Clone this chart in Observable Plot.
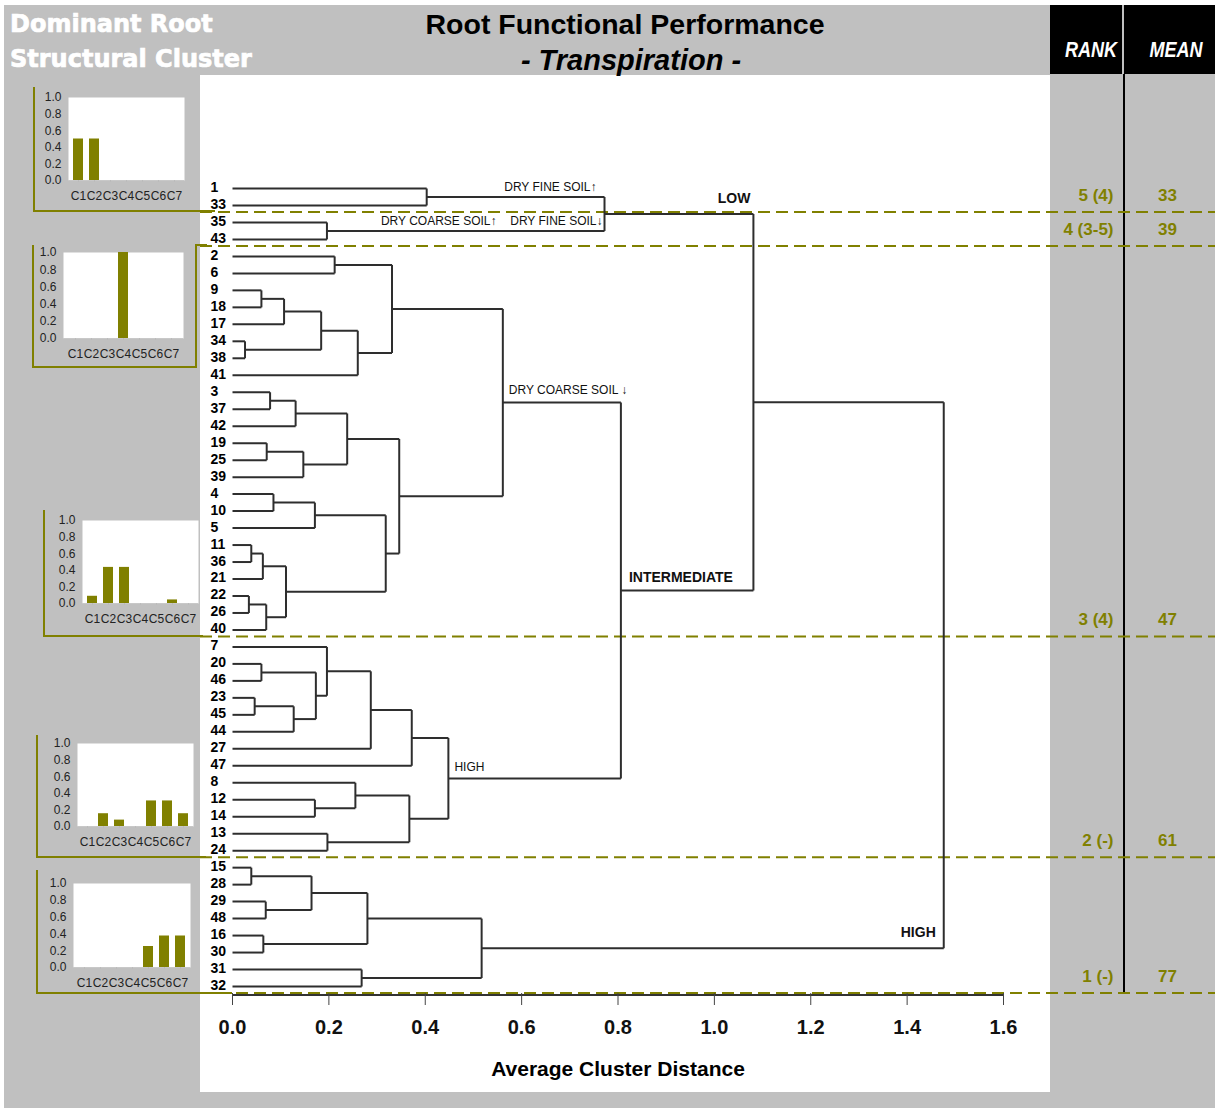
<!DOCTYPE html>
<html>
<head>
<meta charset="utf-8">
<script src="https://cdn.jsdelivr.net/npm/d3@7"></script>
<script src="https://cdn.jsdelivr.net/npm/@observablehq/plot@0.6"></script>
<style>
  html, body { margin: 0; padding: 0; background: #fff; }
  #fig { position: relative; width: 1215px; height: 1108px; overflow: hidden; font-family: "Liberation Sans", Arial, sans-serif; }
  #fig > * { position: absolute; }
  .bg { left: 4px; top: 5px; right: 0; bottom: 0; background: #c0c0c0; }
  .panel { left: 200px; top: 75px; width: 850px; height: 1017px; background: #fff; }
  .box { background: #000; top: 5px; height: 69px; }
  .hdr { color: #fff; font-family: "DejaVu Sans", sans-serif; font-weight: bold; font-size: 24px; line-height: 1; left: 10px;
         white-space: nowrap; -webkit-text-stroke: 0.7px #fff; }
  .title { color: #000; font-weight: bold; font-size: 28.5px; line-height: 1; white-space: nowrap; transform: translateX(-50%); }
  .colhead { color: #fff; font-weight: bold; font-style: italic; font-size: 22px; line-height: 1; white-space: nowrap;
             transform: translateX(-50%) scaleX(0.82); }
  .bracket { border: 0 solid #808000; box-sizing: border-box; }
</style>
</head>
<body>
<div id="fig">
  <div class="bg"></div>
  <div class="panel"></div>
  <div class="box" style="left:1050px;width:72px"></div>
  <div class="box" style="left:1124px;width:91px"></div>
  <div style="left:1123px;top:74px;width:2px;height:919px;background:#000"></div>
  <div class="hdr" style="top:12px">Dominant Root</div>
  <div class="hdr" style="top:47px">Structural Cluster</div>
  <div class="title" style="left:625px;top:10px">Root Functional Performance</div>
  <div class="title" style="left:631px;top:46px;font-style:italic;font-size:29px">- Transpiration -</div>
  <div class="colhead" style="left:1091px;top:39px">RANK</div>
  <div class="colhead" style="left:1176px;top:39px">MEAN</div>
</div>
<script>
// Leaf order of the dendrogram, top to bottom
const leaves = [1, 33, 35, 43, 2, 6, 9, 18, 17, 34, 38, 41, 3, 37, 42, 19, 25, 39, 4, 10, 5,
  11, 36, 21, 22, 26, 40, 7, 20, 46, 23, 45, 44, 27, 47, 8, 12, 14, 13, 24,
  15, 28, 29, 48, 16, 30, 31, 32];

// Agglomeration steps: [node id, left child, right child, average cluster distance]
const merges = [
  ["A", 1, 33, 0.403], ["B", 35, 43, 0.196], ["C", "A", "B", 0.772],
  ["D", 2, 6, 0.212], ["E", 9, 18, 0.060], ["F", "E", 17, 0.107], ["G", 34, 38, 0.026],
  ["H", "F", "G", 0.184], ["I", "H", 41, 0.260], ["J", "D", "I", 0.331],
  ["K", 3, 37, 0.078], ["L", "K", 42, 0.131], ["M", 19, 25, 0.071], ["N", "M", 39, 0.147],
  ["O", "L", "N", 0.238], ["P", 4, 10, 0.085], ["Q", "P", 5, 0.171],
  ["R", 11, 36, 0.039], ["S", "R", 21, 0.063], ["T", 22, 26, 0.034], ["U", "T", 40, 0.070],
  ["V", "S", "U", 0.111], ["W", "Q", "V", 0.318], ["X", "O", "W", 0.346], ["Y", "J", "X", 0.561],
  ["a", 20, 46, 0.060], ["b", 23, 45, 0.046], ["c", "b", 44, 0.127], ["d", "a", "c", 0.173],
  ["e", 7, "d", 0.196], ["f", "e", 27, 0.287], ["g", "f", 47, 0.372],
  ["h", 12, 14, 0.171], ["i", 8, "h", 0.255], ["j", 13, 24, 0.197], ["k", "i", "j", 0.367],
  ["l", "g", "k", 0.448], ["m", "Y", "l", 0.806], ["n", "C", "m", 1.081],
  ["o", 15, 28, 0.039], ["p", 29, 48, 0.069], ["q", "o", "p", 0.164], ["r", 16, 30, 0.064],
  ["s", "q", "r", 0.280], ["t", 31, 32, 0.268], ["u", "s", "t", 0.517],
  ["root", "n", "u", 1.476]
];

// Performance groups: last leaf of each group, rank and mean transpiration
const groupLast = [33, 43, 40, 24, 32];
const groupRank = ["5 (4)", "4 (3-5)", "3 (4)", "2 (-)", "1 (-)"];
const groupMean = [33, 39, 47, 61, 77];

// Branch annotations
const noteText = ["DRY FINE SOIL↑", "DRY COARSE SOIL↑", "DRY FINE SOIL↓", "LOW",
  "DRY COARSE SOIL ↓", "INTERMEDIATE", "HIGH", "HIGH"];
const noteNode = ["A", "B", "B", "C", "Y", "m", "l", "u"];

// Distance axis ticks
const xTicks = [0, 0.2, 0.4, 0.6, 0.8, 1.0, 1.2, 1.4, 1.6];

// Share of each dominant root structural cluster, per group panel
const clusterNames = ["C1", "C2", "C3", "C4", "C5", "C6", "C7"];
const shares1 = [0.5, 0.5, 0, 0, 0, 0, 0];
const shares2 = [0, 0, 0, 1.0, 0, 0, 0];
const shares3 = [0.087, 0.435, 0.435, 0, 0, 0.043, 0];
const shares4 = [0, 0.154, 0.077, 0, 0.308, 0.308, 0.154];
const shares5 = [0, 0, 0, 0, 0.25, 0.375, 0.375];
const shareTicks = [0, 0.2, 0.4, 0.6, 0.8, 1.0];

const OLIVE = "#808000";
const fig = document.getElementById("fig");

// ---- dendrogram geometry ----
const node = new Map(leaves.map((l, i) => [l, { h: 0, y: i }]));
const parent = new Map();
const segments = [];
for (const [id, a, b, h] of merges) {
  const A = node.get(a), B = node.get(b);
  segments.push({ x1: A.h, y1: A.y, x2: h, y2: A.y });
  segments.push({ x1: B.h, y1: B.y, x2: h, y2: B.y });
  segments.push({ x1: h, y1: A.y, x2: h, y2: B.y });
  node.set(id, { h, y: (A.y + B.y) / 2 });
  parent.set(a, id); parent.set(b, id);
}

const lastIndex = groupLast.map(l => leaves.indexOf(l));
const groups = lastIndex.map((idx, i) => ({ idx, rank: groupRank[i], mean: String(groupMean[i]) }));

// placement of each annotation relative to its branch
const noteLayout = [
  { at: "parent", anchor: "end", dx: -8, dy: -10, bold: false },
  { at: "parent", anchor: "end", dx: -108, dy: -10, bold: false },
  { at: "parent", anchor: "end", dx: -2, dy: -10, bold: false },
  { at: "parent", anchor: "end", dx: -3, dy: -15, bold: true },
  { at: "self", anchor: "start", dx: 6, dy: -12, bold: false },
  { at: "self", anchor: "start", dx: 8, dy: -13, bold: true },
  { at: "self", anchor: "start", dx: 6, dy: -11, bold: false },
  { at: "parent", anchor: "end", dx: -8, dy: -16, bold: true }
];
const noteMarks = noteText.map((t, i) => {
  const L = noteLayout[i];
  const nd = node.get(noteNode[i]);
  const xv = L.at === "parent" ? node.get(parent.get(noteNode[i])).h : nd.h;
  return Plot.text([t], {
    x: xv, y: nd.y, text: d => d, textAnchor: L.anchor, dx: L.dx, dy: L.dy,
    fontSize: L.bold ? 14 : 12, fontWeight: L.bold ? "bold" : "normal", fill: "#111"
  });
});

const main = Plot.plot({
  width: 1215, height: 1108,
  marginLeft: 200, marginRight: 0, marginTop: 75, marginBottom: 115,
  style: { background: "transparent", fontFamily: "Liberation Sans, Arial, sans-serif", color: "#111", overflow: "visible" },
  x: { type: "linear", domain: [0, 1.6], range: [232, 1003] },
  y: { type: "linear", domain: [0, leaves.length - 1], range: [188, 986], axis: null },
  marks: [
    // group separators
    Plot.ruleY(lastIndex, { y: d => d + 0.5, dy: -2, stroke: OLIVE, strokeWidth: 2, strokeDasharray: "12,6" }),
    // axis baseline
    Plot.ruleY([leaves.length - 0.5], { x1: 0, x2: 1.6, stroke: "#333", strokeWidth: 2 }),
    Plot.axisX({ ticks: xTicks, tickFormat: d => d.toFixed(1), tickSize: 12, tickPadding: 14,
      fontSize: 20, fontWeight: "bold", stroke: "#444", label: null }),
    Plot.text(["Average Cluster Distance"], { x: 0.8, frameAnchor: "bottom", dy: 82, fontSize: 21, fontWeight: "bold", fill: "#000" }),
    // dendrogram branches
    Plot.link(segments, { x1: "x1", y1: "y1", x2: "x2", y2: "y2", stroke: "#2e2e2e", strokeWidth: 2 }),
    // leaf labels
    Plot.text(leaves, { y: (d, i) => i, text: d => String(d), frameAnchor: "left", textAnchor: "start",
      dx: 10, dy: -1, fontSize: 14, fontWeight: "bold", fill: "#000" }),
    ...noteMarks,
    // rank and mean per group
    Plot.text(groups, { y: "idx", text: "rank", frameAnchor: "right", textAnchor: "end", dx: -102, dy: -10,
      fill: OLIVE, fontSize: 17, fontWeight: "bold" }),
    Plot.text(groups, { y: "idx", text: "mean", frameAnchor: "right", textAnchor: "middle", dx: -48, dy: -10,
      fill: OLIVE, fontSize: 17, fontWeight: "bold" })
  ]
});
main.style.position = "absolute";
main.style.left = "0px";
main.style.top = "0px";
fig.appendChild(main);

// ---- brackets tying each composition panel to its group ----
const brackets = [
  { l: 33, t: 87, w: 182, h: 125, sides: "left bottom" },
  { l: 32, t: 245, w: 165, h: 123, sides: "left bottom right" },
  { l: 195, t: 244, w: 12, h: 2, sides: "top" },
  { l: 43, t: 510, w: 160, h: 127, sides: "left bottom" },
  { l: 36, t: 735, w: 170, h: 123, sides: "left bottom" },
  { l: 36, t: 870, w: 196, h: 124, sides: "left bottom" }
];
for (const b of brackets) {
  const d = document.createElement("div");
  d.className = "bracket";
  Object.assign(d.style, { left: b.l + "px", top: b.t + "px", width: b.w + "px", height: b.h + "px" });
  for (const s of b.sides.split(" ")) d.style["border" + s[0].toUpperCase() + s.slice(1) + "Width"] = "2px";
  fig.appendChild(d);
}

// ---- composition bar panels ----
function miniChart(shares, box) {
  const rows = clusterNames.map((c, i) => ({ c, v: shares[i] }));
  const ml = 34, mt = 6, mr = 4, mb = 26;
  const svg = Plot.plot({
    width: box.w + ml + mr, height: box.h + mt + mb,
    marginLeft: ml, marginRight: mr, marginTop: mt, marginBottom: mb,
    style: { background: "transparent", fontFamily: "Liberation Sans, Arial, sans-serif", color: "#222", overflow: "visible" },
    x: { type: "band", domain: clusterNames, paddingInner: 0.38, paddingOuter: 0.3 },
    y: { domain: [0, 1] },
    marks: [
      Plot.frame({ fill: "#fff", stroke: null }),
      Plot.ruleY([0], { stroke: "#c8c8c8" }),
      Plot.barY(rows, { x: "c", y: "v", fill: OLIVE }),
      Plot.axisY({ ticks: shareTicks, tickFormat: d => d.toFixed(1), tickSize: 0, tickPadding: 7, fontSize: 12, label: null }),
      Plot.axisX({ tickSize: 2, tickPadding: 9, fontSize: 12, stroke: "#bbb", label: null })
    ]
  });
  svg.style.position = "absolute";
  svg.style.left = (box.x - ml) + "px";
  svg.style.top = (box.y - mt) + "px";
  fig.appendChild(svg);
}
miniChart(shares1, { x: 68, y: 97, w: 116, h: 83 });
miniChart(shares2, { x: 63, y: 252, w: 120, h: 86 });
miniChart(shares3, { x: 82, y: 520, w: 116, h: 83 });
miniChart(shares4, { x: 77, y: 743, w: 116, h: 83 });
miniChart(shares5, { x: 73, y: 883, w: 117, h: 84 });
</script>
</body>
</html>
